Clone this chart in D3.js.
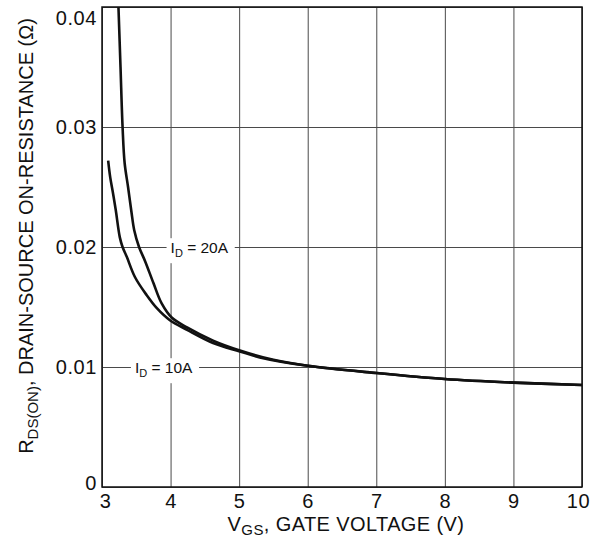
<!DOCTYPE html>
<html>
<head>
<meta charset="utf-8">
<script src="https://cdn.jsdelivr.net/npm/d3@7"></script>
<style>
  body { margin: 0; background: #fff; }
  svg { display: block; font-family: "Liberation Sans", Arial, Helvetica, sans-serif; }
</style>
</head>
<body>
<svg id="chart" width="598" height="539"></svg>
<script>
"use strict";

// Gate voltage (V) and on-resistance (ohm).
var vgs20A = [3.24, 3.27, 3.30, 3.33, 3.38, 3.43, 3.47, 3.54, 3.63, 3.75, 3.87, 4.02, 4.24, 4.62, 5.00, 5.50, 6.00, 7.00, 8.00, 9.00, 10.0];
var rds20A = [0.0400, 0.0350, 0.0300, 0.0270, 0.0250, 0.0229, 0.0214, 0.0200, 0.0188, 0.0170, 0.0153, 0.0141, 0.0133, 0.0122, 0.0114, 0.0106, 0.0101, 0.0095, 0.0090, 0.0087, 0.0085];

var vgs10A = [3.09, 3.12, 3.16, 3.20, 3.26, 3.30, 3.36, 3.48, 3.65, 3.80, 3.99, 4.24, 4.62, 5.01, 5.30, 6.00, 7.00, 8.00, 9.00, 10.0];
var rds10A = [0.0272, 0.0258, 0.0245, 0.0231, 0.0208, 0.0200, 0.0192, 0.0175, 0.0160, 0.0149, 0.0139, 0.0131, 0.0120, 0.0113, 0.0108, 0.0101, 0.0095, 0.0090, 0.0087, 0.0085];

var xTicks = [3, 4, 5, 6, 7, 8, 9, 10];
var xTickLabels = ["3", "4", "5", "6", "7", "8", "9", "10"];
var yTicks = [0, 0.01, 0.02, 0.03, 0.04];
var yTickLabels = ["0", "0.01", "0.02", "0.03", "0.04"];

// Curve labels: [text, subscript, rest, vgs, rds]
var curveLabels = [
    ["I", "D", " = 20A", 4.0, 0.02],
    ["I", "D", " = 10A", 3.48, 0.01]
];

(function () {
    var svg = d3.select("#chart"),
        margin = {top: 7, right: 16, bottom: 52, left: 102},
        width = +svg.attr("width") - margin.left - margin.right,
        height = +svg.attr("height") - margin.top - margin.bottom;

    var x = d3.scaleLinear().domain([3, 10]).range([0, width]),
        y = d3.scaleLinear().domain([0, 0.04]).range([height, 0]);

    var g = svg.append("g")
        .attr("transform", "translate(" + margin.left + "," + margin.top + ")");

    /***************************************
     * Grid and tick labels
     */
    var xAxis = g.append("g")
        .attr("transform", "translate(0," + height + ")")
        .call(d3.axisBottom(x)
            .tickValues(xTicks)
            .tickSize(-height)
            .tickPadding(7)
            .tickFormat(function (d, i) { return xTickLabels[i]; }));

    var yAxis = g.append("g")
        .call(d3.axisLeft(y)
            .tickValues(yTicks)
            .tickSize(-width)
            .tickPadding(5)
            .tickFormat(function (d, i) { return yTickLabels[i]; }));

    [xAxis, yAxis].forEach(function (ax) {
        ax.select(".domain").remove();
        ax.selectAll(".tick line")
            .attr("stroke", "#4a4a4a")
            .attr("stroke-width", 1);
        ax.selectAll(".tick text")
            .attr("fill", "#111")
            .style("font-size", "20px")
            .style("letter-spacing", "0.6px")
            .style("font-family", "inherit");
    });

    // The end labels sit a little inside the frame.
    xAxis.selectAll(".tick text")
        .attr("dx", function (d) { return d === 3 ? 3 : (d === 10 ? -4 : 0); });
    yAxis.selectAll(".tick text")
        .attr("dy", function (d) {
            return d === 0.04 ? "0.85em" : (d === 0 ? "0.1em" : "0.32em");
        });

    /***************************************
     * Curves
     */
    var line = d3.line()
        .x(function (d) { return x(d[0]); })
        .y(function (d) { return y(d[1]); })
        .curve(d3.curveCatmullRom.alpha(0.5));

    [[vgs20A, rds20A], [vgs10A, rds10A]].forEach(function (s) {
        g.append("path")
            .datum(d3.zip(s[0], s[1]))
            .attr("fill", "none")
            .attr("stroke", "#111")
            .attr("stroke-width", 2.6)
            .attr("stroke-linejoin", "round")
            .attr("d", line);
    });

    /***************************************
     * Curve labels, on a white patch over the grid
     */
    curveLabels.forEach(function (c) {
        var lg = g.append("g");
        var bg = lg.append("rect").attr("fill", "#fff");
        var t = lg.append("text")
            .attr("x", x(c[3]))
            .attr("y", y(c[4]))
            .attr("dy", "0.4em")
            .attr("fill", "#111")
            .style("font-size", "15.5px");
        t.append("tspan").text(c[0]);
        t.append("tspan").attr("dy", 4).style("font-size", "11px").text(c[1]);
        t.append("tspan").attr("dy", -4).text(c[2]);

        var b = t.node().getBBox();
        bg.attr("x", b.x - 4)
            .attr("y", b.y - 1)
            .attr("width", b.width + 10)
            .attr("height", b.height + 5);
    });

    // Frame
    g.append("rect")
        .attr("width", width)
        .attr("height", height)
        .attr("fill", "none")
        .attr("stroke", "#111")
        .attr("stroke-width", 1.5);

    /***************************************
     * Axis titles
     */
    var xt = svg.append("text")
        .attr("x", margin.left + width / 2 + 4)
        .attr("y", 531)
        .attr("text-anchor", "middle")
        .attr("fill", "#111")
        .style("font-size", "20px")
        .style("letter-spacing", "0.4px");
    xt.append("tspan").text("V");
    xt.append("tspan").attr("dy", 4).style("font-size", "15px").text("GS");
    xt.append("tspan").attr("dy", -4).text(", GATE VOLTAGE (V)");

    var yt = svg.append("text")
        .attr("transform", "translate(33,236) rotate(-90)")
        .attr("text-anchor", "middle")
        .attr("fill", "#111")
        .style("font-size", "20px");
    yt.append("tspan").text("R");
    yt.append("tspan").attr("dy", 5).style("font-size", "15px").text("DS(ON)");
    yt.append("tspan").attr("dy", -5).text(", DRAIN-SOURCE ON-RESISTANCE (\u03A9)");
})();
</script>
</body>
</html>
